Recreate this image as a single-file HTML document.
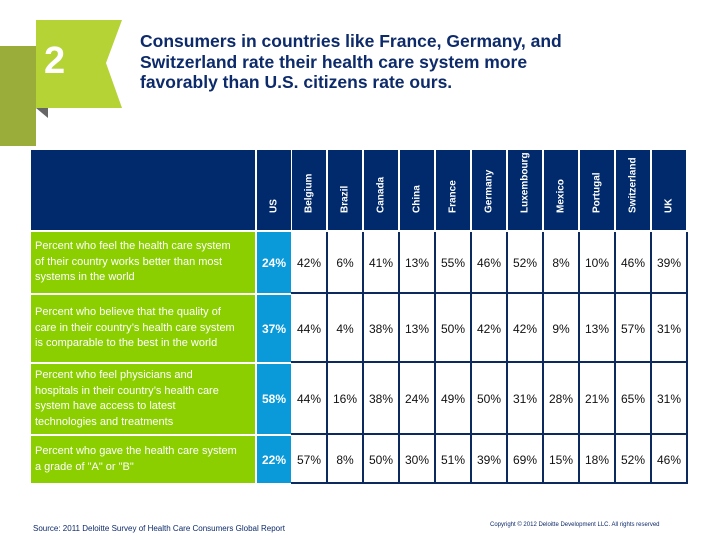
<!DOCTYPE html>
<html><head><meta charset="utf-8"><style>
body{margin:0;width:720px;height:540px;background:#fff;position:relative;overflow:hidden;font-family:"Liberation Sans",sans-serif}
.a{position:absolute;box-sizing:border-box}
.hd{background:#002a6c;color:#fff;font-weight:bold;font-size:10px}
.hd span{position:absolute;left:50%;bottom:6px;transform-origin:0 0;transform:rotate(-90deg) translateY(-50%);white-space:nowrap}
.lab{background:#8ccf00;color:#fff;font-size:11px;line-height:15.5px;padding:0 2px 0 4px;display:flex;align-items:center;white-space:nowrap}
.us{background:#0a9ad9;color:#fff;font-size:12px;font-weight:bold;display:flex;align-items:center;justify-content:center}
.v{font-size:12px;color:#111;display:flex;align-items:center;justify-content:center}
</style></head><body>
<div class="a" style="left:0;top:46px;width:36px;height:100px;background:#9aac3a"></div>
<svg class="a" style="left:0;top:0" width="130" height="125">
<polygon points="36,108 48,108 48,118" fill="#666"/>
<polygon points="36,20 122,20 106,63 122,108 36,108" fill="#b5d334"/>
</svg>
<div class="a" style="left:44px;top:40px;font-size:38px;font-weight:bold;color:#fff">2</div>
<div class="a" style="left:140px;top:31px;width:480px;font-size:17.5px;font-weight:bold;color:#0d2a6a;line-height:20.5px">Consumers in countries like France, Germany, and<br>Switzerland rate their health care system more<br>favorably than U.S. citizens rate ours.</div>
<div id="tbl"></div>
<div class="a" style="left:33px;top:524px;font-size:8px;color:#0d2a6a">Source: 2011 Deloitte Survey of Health Care Consumers Global Report</div>
<div class="a" style="left:490px;top:522px;font-size:6px;color:#0d2a6a">Copyright © 2012 Deloitte Development LLC. All rights reserved</div>
<script>
const countries=["US","Belgium","Brazil","Canada","China","France","Germany","Luxembourg","Mexico","Portugal","Switzerland","UK"];
const questions=["Percent who feel the health care system<br>of their country works better than most<br>systems in the world","Percent who believe that the quality of<br>care in their country’s health care system<br>is comparable to the best in the world","Percent who feel physicians and<br>hospitals in their country’s health care<br>system have access to latest<br>technologies and treatments","Percent who gave the health care system<br>a grade of \"A\" or \"B\""];
const row1=[24,42,6,41,13,55,46,52,8,10,46,39];
const row2=[37,44,4,38,13,50,42,42,9,13,57,31];
const row3=[58,44,16,38,24,49,50,31,28,21,65,31];
const row4=[22,57,8,50,30,51,39,69,15,18,52,46];
const rows=[row1,row2,row3,row4];
const T=document.getElementById('tbl');
function mk(cls,x,y,w,h,html){const d=document.createElement('div');d.className='a '+cls;d.style.cssText=`left:${x}px;top:${y}px;width:${w}px;height:${h}px`;d.innerHTML=html||'';T.appendChild(d);return d;}
const colX=i=>i==0?257:291+(i-1)*36, colW=i=>i==0?34:36;
const rowY=[232,293,362,434,483];
let h=mk('hd',31,150,224,80);


countries.forEach((c,i)=>{const x=colX(i)+(i?1:0),w=colW(i)-(i?2:0);const d=mk('hd',x,150,w,80,'<span>'+c+'</span>');

});
rows.forEach((r,ri)=>{const y0=rowY[ri]+(ri?2:0),y1=rowY[ri+1];
const l=mk('lab',31,y0,224,y1-y0,'<div>'+questions[ri]+'</div>');


r.forEach((v,i)=>{const d=mk(i==0?'us':'v',colX(i),y0,colW(i),y1-y0,v+'%');

});});
for(let i=2;i<=12;i++){const x=291+(i-1)*36-1;const d=mk('',x,232,2,252);d.style.background='#0d2a5e';

}
[293,362,434,483].forEach(y=>{const d=mk('',291,y-1,397,2);d.style.background='#0d2a5e';

});
</script>
</body></html>
